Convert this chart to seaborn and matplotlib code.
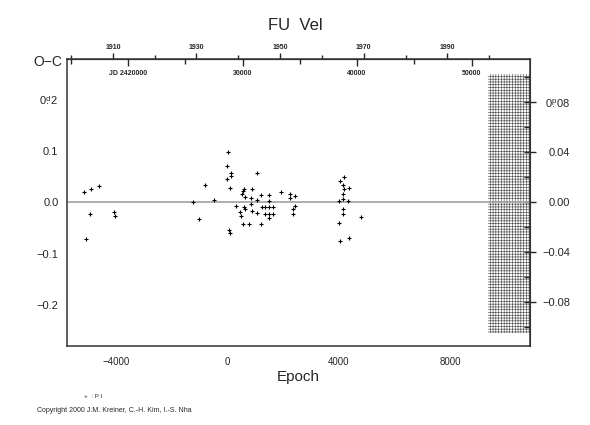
import matplotlib
matplotlib.use("Agg")
import matplotlib.pyplot as plt
import seaborn as sns
import numpy as np
import pandas as pd
from matplotlib.ticker import FixedLocator, MultipleLocator, NullFormatter

# O-C data (epoch, days)
epoch = [-5164, -4924, -4615, -4949, -5093, -4075, -4040,
         -1236, -1042, -805, -492,
         11, -14, 108, 129, -14, 83, 58, 83,
         1042, 298, 539, 586, 514, 611, 873, 848, 1064, 1208, 1495, 1495,
         1926, 2239, 2408, 2239, 2430, 2336, 2358,
         848, 586, 633, 442, 467, 561, 755, 873, 1042, 1208, 1233, 1352,
         1352, 1495, 1495, 1495, 1639, 1617,
         4180, 4036, 4133, 4180, 4349, 4133, 4155, 4011, 4324, 4133, 4133,
         4802, 4011, 4349, 4036]
oc = [0.021, 0.025, 0.032, -0.023, -0.072, -0.019, -0.027,
      0.001, -0.032, 0.034, 0.0045,
      0.098, 0.070, 0.057, 0.052, 0.045, 0.027, -0.053, -0.060,
      0.057, -0.007, 0.022, 0.025, 0.017, 0.010, 0.025, 0.008, 0.004, 0.014, 0.014, 0.0025,
      0.021, 0.017, 0.012, 0.008, -0.007, -0.013, -0.023,
      -0.004, -0.009, -0.013, -0.019, -0.027, -0.043, -0.042, -0.017, -0.021, -0.042, -0.009, -0.010,
      -0.023, -0.009, -0.022, -0.031, -0.023, -0.009,
      0.050, 0.042, 0.034, 0.025, 0.028, 0.016, 0.006, 0.003, 0.002, -0.012, -0.023,
      -0.029, -0.041, -0.069, -0.076]

# ephemeris used for the top and right axes
T0 = 2428707.0
P = 2.43

# shaded future region
future_start = 9366
future_lo, future_hi = -0.255, 0.25

left_ticks = [-0.2, -0.1, 0.0, 0.1, 0.2]
left_labels = ["\u22120.2", "\u22120.1", "0.0", "0.1", r"0$\overset{\mathrm{d}}{.}$2"]
right_ticks = [-0.08, -0.04, 0.0, 0.04, 0.08]
right_labels = ["\u22120.08", "\u22120.04", "0.00", "0.04", r"0$\overset{\mathrm{p}}{.}$08"]
jd_ticks = [2420000, 2430000, 2440000, 2450000]
jd_labels = ["JD 2420000", "30000", "40000", "50000"]
year_ticks = [1910, 1930, 1950, 1970, 1990]

df = pd.DataFrame({"Epoch": epoch, "O-C": oc})

sns.set_style("white")
plt.rcParams["font.family"] = ["Liberation Sans", "DejaVu Sans"]
plt.rcParams["mathtext.fontset"] = "custom"
plt.rcParams["mathtext.rm"] = "Liberation Sans"
plt.rcParams["hatch.linewidth"] = 0.45

fig = plt.figure(figsize=(5.9, 4.25), dpi=100)
ax = fig.add_axes([0.1131, 0.1859, 0.7853, 0.6753])

ax.axhline(0, color="#a8a8a8", lw=1.3, zorder=1)
ax.fill_between([future_start, 11500], future_lo, future_hi, facecolor="white",
                edgecolor="#555555", hatch="++++++", lw=0, zorder=0)
sns.scatterplot(data=df, x="Epoch", y="O-C", ax=ax, marker="+", color="black",
                s=8, linewidth=0.8, zorder=3, legend=False)

ax.set_xlim(-5786, 10865)
ax.set_ylim(-0.2796, 0.279)
for s in ax.spines.values():
    s.set_color("#333333")
    s.set_linewidth(1.1)

ax.xaxis.set_major_locator(FixedLocator([-4000, 0, 4000, 8000]))
ax.xaxis.set_minor_locator(FixedLocator([-2000, 2000, 6000, 10000]))
ax.set_xticklabels(["\u22124000", "0", "4000", "8000"], fontsize=7)
ax.yaxis.set_major_locator(FixedLocator(left_ticks))
ax.yaxis.set_minor_locator(FixedLocator([-0.25, -0.15, -0.05, 0.05, 0.15, 0.25]))
ax.set_yticklabels(left_labels, fontsize=8)
ax.tick_params(axis="x", which="major", direction="in", length=6, width=1, pad=8, top=False)
ax.tick_params(axis="x", which="minor", direction="in", length=3.5, width=1, top=False)
ax.tick_params(axis="y", which="major", direction="in", length=5, width=1, pad=6, right=False)
ax.tick_params(axis="y", which="minor", direction="in", length=4, width=1, right=False)
ax.set_xlabel("Epoch", fontsize=11, labelpad=2)
ax.set_ylabel("")

# top axis: Julian date (inside) and years (outside)
def e2jd(e):
    return T0 + P * np.asarray(e)

def jd2e(jd):
    return (np.asarray(jd) - T0) / P

def e2yr(e):
    return 1900 + (e2jd(e) - 2415020.5) / 365.25

def yr2e(y):
    return jd2e(2415020.5 + (np.asarray(y) - 1900) * 365.25)

jdax = ax.secondary_xaxis("top", functions=(e2jd, jd2e))
jdax.xaxis.set_major_locator(FixedLocator(jd_ticks))
jdax.xaxis.set_minor_locator(FixedLocator([2415000, 2425000, 2435000, 2445000]))
jdax.set_xticklabels(jd_labels, fontsize=5, fontweight="bold")
jdax.tick_params(which="major", direction="in", length=5, width=1, pad=-13)
jdax.tick_params(which="minor", direction="in", length=3.5, width=1)
jdax.spines["top"].set_color("#333333")

yrax = ax.secondary_xaxis("top", functions=(e2yr, yr2e))
yrax.xaxis.set_major_locator(FixedLocator(year_ticks))
yrax.xaxis.set_minor_locator(FixedLocator([1900, 1920, 1940, 1960, 1980, 2000]))
yrax.set_xticklabels([str(y) for y in year_ticks], fontsize=5, fontweight="bold")
yrax.tick_params(which="major", direction="out", length=4, width=1, pad=1.5)
yrax.tick_params(which="minor", direction="out", length=3, width=1)
yrax.spines["top"].set_color("#333333")

# right axis: phase
rax = ax.secondary_yaxis("right", functions=(lambda v: v / P, lambda p: p * P))
rax.yaxis.set_major_locator(FixedLocator(right_ticks))
rax.yaxis.set_minor_locator(MultipleLocator(0.02))
rax.yaxis.set_minor_formatter(NullFormatter())
rax.set_yticklabels(right_labels, fontsize=8)
for lab in rax.get_yticklabels():
    lab.set_ha("right")
rax.tick_params(which="major", direction="inout", length=8, width=1, pad=25)
rax.tick_params(which="minor", direction="in", length=4, width=1)
rax.spines["right"].set_color("#333333")

fig.text(0.5, 1 - 26 / 425, "FU  Vel", ha="center", va="center", fontsize=12)
fig.text(48 / 590, 1 - 62 / 425, "O\u2212C", ha="center", va="center", fontsize=10)
fig.text(84 / 590, 1 - 396 / 425, "+  : P I", ha="left", va="center", fontsize=4.5)
fig.text(37 / 590, 1 - 411 / 425, "Copyright 2000 J.M. Kreiner, C.-H. Kim, I.-S. Nha",
         ha="left", va="center", fontsize=5)

fig.savefig("out.png", dpi=100)
